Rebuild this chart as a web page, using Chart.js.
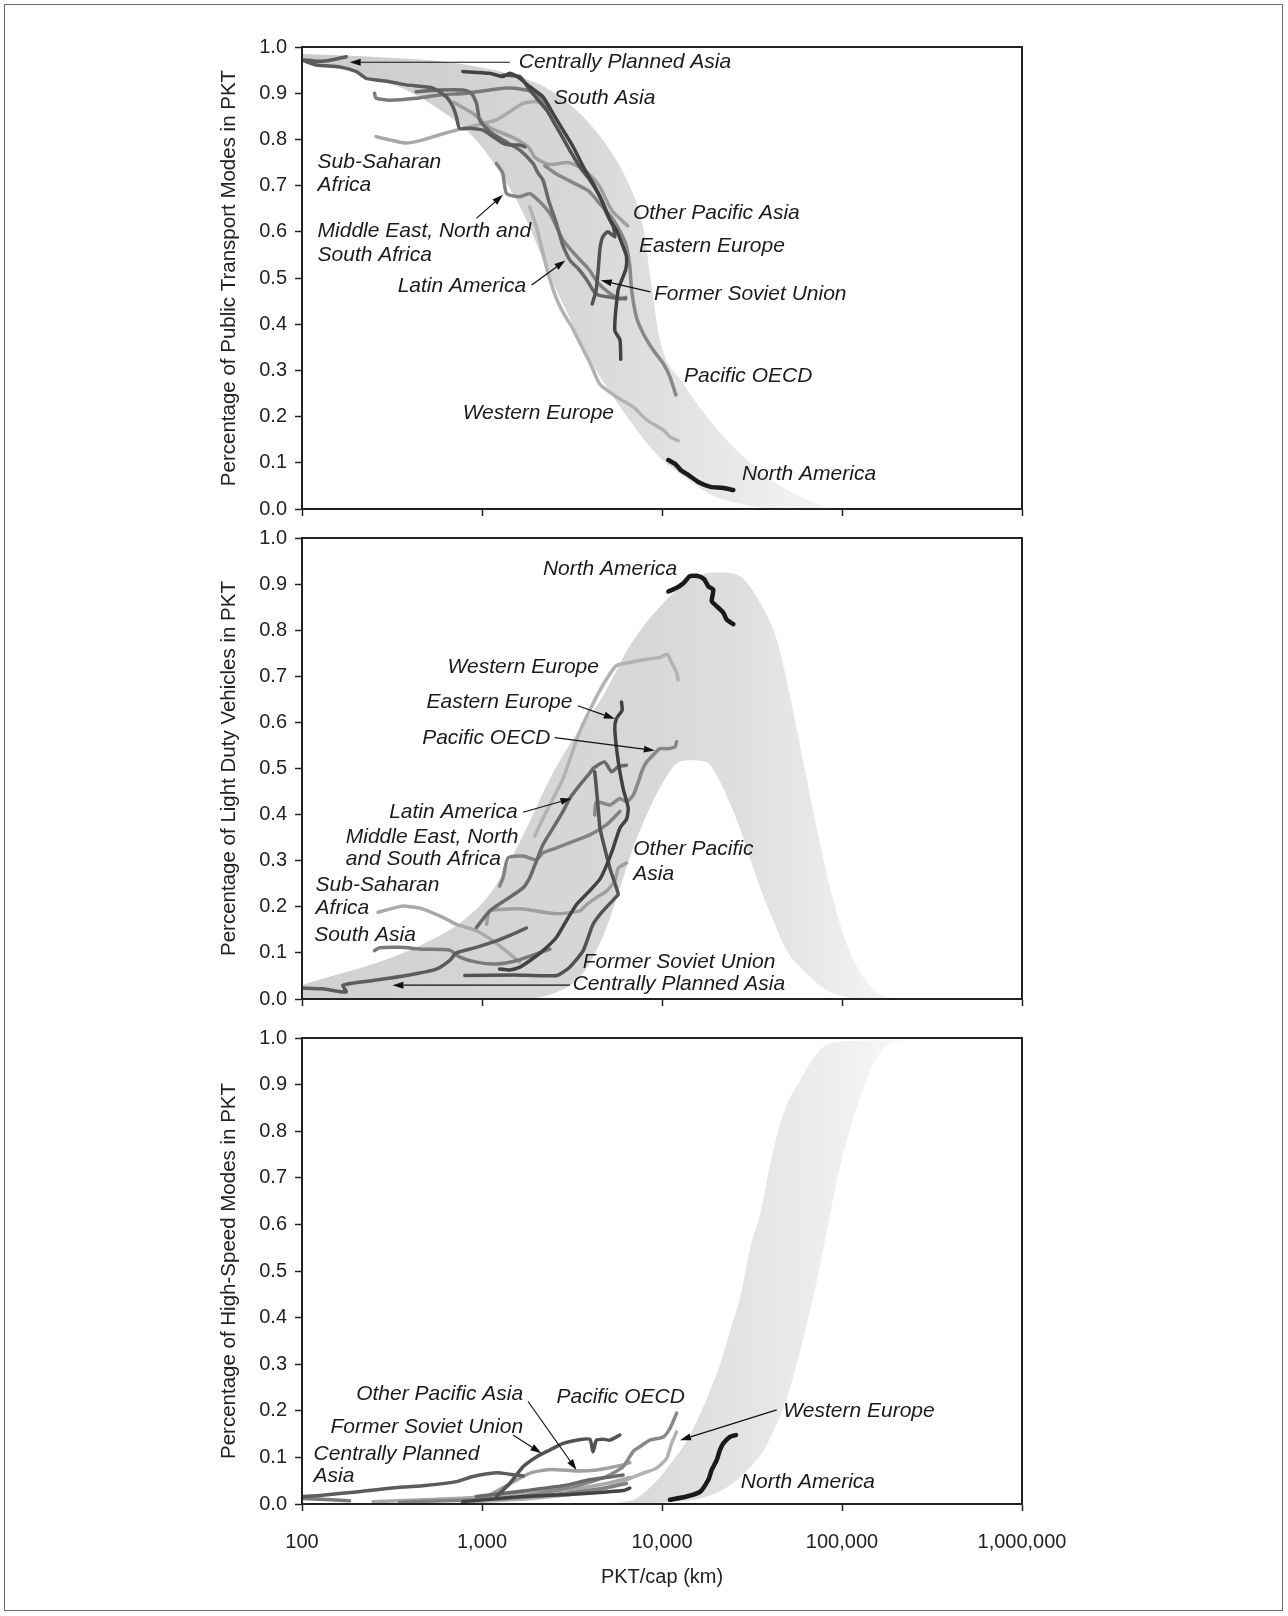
<!DOCTYPE html>
<html>
<head>
<meta charset="utf-8">
<title>Mode shares vs PKT/cap</title>
<script src="https://cdn.jsdelivr.net/npm/chart.js@4.4.1/dist/chart.umd.min.js"></script>
<style>
  html, body { margin: 0; padding: 0; background: #fff; }
  body { width: 1288px; height: 1616px; position: relative; overflow: hidden; }
  #frame { position: absolute; left: 4px; top: 4px; width: 1277px; height: 1605px; border: 1.5px solid #6a6a6a; }
  canvas { position: absolute; left: 200px; }
</style>
</head>
<body>
<div id="frame"></div>
<canvas id="pt" width="892" height="503" style="top:27px"></canvas>
<canvas id="ldv" width="892" height="502" style="top:518px"></canvas>
<canvas id="hs" width="892" height="598" style="top:1018px"></canvas>
<script>
// decade ticks on the PKT/cap axis
const xTicks = [100, 1000, 10000, 100000, 1000000];

// ---- panel 1: public transport share, [PKT/cap, share] ----
const ptNA = [[10840,0.106],[11800,0.098],[12740,0.084],[14090,0.073],[16000,0.058],[18600,0.048],[21600,0.046],[24900,0.041]];
const ptWE = [[1841,0.654],[2005,0.611],[2183,0.553],[2349,0.505],[2597,0.455],[2873,0.420],[3200,0.390],[3600,0.350],[4000,0.315],[4520,0.270],[5580,0.243],[6920,0.221],[8210,0.193],[10160,0.171],[11070,0.156],[12300,0.148]];
const ptPO = [[2233,0.743],[2597,0.725],[3179,0.707],[3892,0.689],[4530,0.660],[5265,0.631],[5825,0.602],[6284,0.574],[6607,0.530],[6780,0.474],[7200,0.416],[7860,0.380],[8930,0.344],[10160,0.315],[11070,0.286],[11940,0.247]];
const ptEE = [[783,0.947],[1102,0.943],[1303,0.936],[1426,0.943],[1622,0.932],[1841,0.914],[2183,0.892],[2483,0.856],[2820,0.820],[3210,0.784],[3648,0.741],[4140,0.705],[4710,0.662],[5130,0.626],[5580,0.604],[6080,0.568],[6350,0.546],[6300,0.520],[5900,0.490],[5700,0.474],[5465,0.387],[5840,0.366],[5900,0.324]];
const ptFSU = [[1303,0.939],[1622,0.936],[1841,0.907],[2278,0.864],[2594,0.827],[3070,0.777],[3490,0.741],[3970,0.712],[4520,0.676],[4920,0.640],[5360,0.611],[5465,0.589],[5000,0.600],[4700,0.590],[4530,0.566],[4418,0.516],[4306,0.473],[4198,0.458],[4094,0.444]];
const ptCPA = [[176,0.979],[130,0.969],[100,0.972],[120,0.961],[162,0.957],[200,0.947],[228,0.932],[307,0.925],[380,0.918],[534,0.911],[634,0.892],[689,0.871],[721,0.849],[750,0.824],[852,0.824],[1012,0.820],[1150,0.806],[1303,0.792],[1426,0.788],[1622,0.788],[1730,0.784]];
const ptSA = [[253,0.900],[258,0.889],[307,0.885],[431,0.889],[581,0.896],[820,0.900],[1102,0.907],[1368,0.911],[1690,0.908],[2005,0.900],[2278,0.878],[2323,0.864]];
const ptSSA = [[258,0.806],[307,0.799],[380,0.792],[470,0.799],[581,0.810],[721,0.820],[932,0.831],[1202,0.842],[1426,0.860],[1690,0.878],[2005,0.882],[2278,0.874]];
const ptLA = [[431,0.903],[581,0.907],[783,0.907],[873,0.900],[932,0.878],[971,0.842],[1104,0.817],[1303,0.799],[1622,0.777],[1920,0.748],[2048,0.727],[2183,0.712],[2349,0.667],[2597,0.617],[2800,0.573],[3099,0.537],[3428,0.520],[3792,0.498],[4306,0.465],[5265,0.458],[6284,0.455]];
const ptME = [[1202,0.748],[1303,0.727],[1368,0.683],[1622,0.676],[1841,0.683],[2094,0.665],[2384,0.640],[2594,0.611],[2820,0.582],[3300,0.550],[3900,0.520],[4400,0.490],[5000,0.470],[5825,0.455],[6284,0.458]];
const ptOPA = [[699,0.880],[900,0.855],[1102,0.826],[1489,0.804],[1823,0.782],[1967,0.761],[2349,0.746],[3022,0.750],[3517,0.739],[4094,0.718],[4530,0.696],[5265,0.646],[6443,0.613]];
const ptBandLower = [[100,0.970],[200,0.943],[380,0.907],[582,0.864],[891,0.806],[1202,0.741],[1552,0.669],[1841,0.610],[2233,0.530],[2873,0.437],[3517,0.365],[4306,0.300],[5538,0.235],[7129,0.175],[9500,0.115],[13700,0.065],[19000,0.030],[30000,0.008],[45000,0],[120000,0]];
const ptBandUpper = [[100,0.985],[307,0.977],[721,0.965],[1368,0.943],[2384,0.907],[3648,0.849],[5130,0.777],[6620,0.698],[7860,0.611],[8700,0.490],[9730,0.366],[13130,0.272],[17700,0.200],[24900,0.135],[38200,0.070],[58500,0.027],[82200,0.005],[120000,0]];

// ---- panel 2: light duty vehicle share ----
const ldvNA = [[10840,0.884],[12060,0.892],[13130,0.902],[14290,0.917],[15560,0.918],[17100,0.911],[18090,0.895],[19270,0.888],[18900,0.863],[20130,0.852],[21900,0.838],[22860,0.823],[24900,0.813]];
const ldvWE = [[1963,0.353],[2183,0.392],[2483,0.435],[2820,0.478],[3490,0.580],[4320,0.655],[4920,0.694],[5580,0.723],[6620,0.730],[8210,0.737],[9730,0.741],[10690,0.748],[11300,0.730],[12060,0.708],[12300,0.692]];
const ldvEE = [[1253,0.065],[1426,0.063],[1622,0.069],[1841,0.083],[2183,0.105],[2594,0.134],[2945,0.170],[3350,0.205],[3970,0.235],[4520,0.260],[4920,0.290],[5360,0.328],[5840,0.371],[6350,0.390],[6490,0.414],[6080,0.457],[5720,0.514],[5465,0.586],[5580,0.608],[6000,0.626],[5960,0.644]];
const ldvPO = [[4230,0.399],[4320,0.428],[5130,0.421],[5840,0.435],[6350,0.428],[6920,0.442],[7390,0.471],[7710,0.493],[8210,0.514],[8930,0.529],[9730,0.543],[10610,0.543],[11800,0.547],[12060,0.558]];
const ldvLA = [[931,0.155],[1104,0.191],[1368,0.216],[1690,0.241],[1841,0.263],[2005,0.299],[2183,0.335],[2483,0.371],[2820,0.407],[3070,0.435],[3490,0.464],[3970,0.490],[4140,0.500],[4800,0.514],[5240,0.493],[5720,0.504],[6350,0.507]];
const ldvFSU = [[802,0.051],[1500,0.052],[2594,0.051],[3070,0.069],[3648,0.105],[4140,0.162],[4700,0.191],[5580,0.222],[5720,0.227],[5130,0.284],[4800,0.328],[4520,0.371],[4420,0.414],[4320,0.457],[4230,0.493]];
const ldvOPA = [[1059,0.162],[1104,0.191],[1400,0.195],[1690,0.195],[2594,0.185],[3490,0.191],[3820,0.205],[4320,0.220],[4920,0.234],[5465,0.256],[5720,0.284],[6350,0.295]];
const ldvME = [[1253,0.245],[1309,0.263],[1396,0.306],[1690,0.310],[2005,0.302],[2183,0.317],[2594,0.328],[3210,0.342],[3970,0.356],[4920,0.378],[5840,0.407]];
const ldvSSA = [[264,0.188],[307,0.195],[364,0.202],[470,0.195],[607,0.177],[721,0.162],[931,0.148],[1151,0.126],[1426,0.098],[1622,0.080]];
const ldvSA = [[253,0.105],[270,0.111],[348,0.112],[470,0.108],[660,0.106],[752,0.091],[931,0.080],[1202,0.076],[1552,0.083],[2005,0.098],[2384,0.108]];
const ldvCPA = [[100,0.024],[130,0.022],[176,0.015],[169,0.030],[248,0.040],[380,0.051],[558,0.065],[660,0.083],[721,0.100],[931,0.112],[1202,0.126],[1552,0.144],[1765,0.154]];
const ldvBandInner = [[100,0],[1500,0],[2500,0.012],[3490,0.047],[4140,0.091],[4920,0.155],[5840,0.241],[6920,0.328],[8210,0.399],[10160,0.471],[12060,0.511],[14300,0.518],[17700,0.514],[21000,0.471],[24900,0.407],[29500,0.328],[35100,0.241],[41600,0.170],[49300,0.105],[63700,0.055],[82200,0.019],[106000,0.004],[130000,0],[200000,0]];
const ldvBandOuter = [[100,0.030],[120,0.040],[248,0.076],[470,0.119],[783,0.170],[1104,0.227],[1426,0.299],[1841,0.385],[2384,0.478],[3490,0.586],[4710,0.658],[6620,0.766],[10160,0.859],[15560,0.917],[21000,0.925],[27100,0.917],[35100,0.859],[43400,0.780],[51400,0.658],[61000,0.514],[72400,0.371],[85900,0.241],[106300,0.119],[131600,0.047],[162800,0.011],[200000,0]];

// ---- panel 3: high-speed mode share ----
const hsNA = [[11070,0.009],[13700,0.016],[16260,0.026],[18090,0.052],[18870,0.073],[20130,0.094],[21000,0.116],[21900,0.130],[23860,0.144],[25760,0.148]];
const hsWE = [[770,0.004],[1650,0.010],[3270,0.022],[4950,0.035],[6350,0.052],[7860,0.066],[9330,0.077],[10610,0.098],[11300,0.130],[12060,0.155]];
const hsPO = [[1690,0.016],[3210,0.037],[4920,0.059],[6080,0.080],[6920,0.113],[7540,0.123],[8570,0.137],[10160,0.144],[11070,0.162],[12060,0.195]];
const hsFSU = [[1202,0.016],[1426,0.044],[1690,0.080],[2005,0.101],[2384,0.116],[2820,0.130],[3350,0.137],[3970,0.139],[4140,0.112],[4320,0.137],[4710,0.139],[5130,0.137],[5840,0.148]];
const hsOPA = [[1104,0.019],[1841,0.066],[2384,0.074],[3350,0.071],[4320,0.073],[6080,0.084],[6620,0.089]];
const hsCPA = [[100,0.016],[130,0.019],[200,0.026],[307,0.034],[470,0.039],[721,0.048],[891,0.059],[1202,0.067],[1426,0.064],[1690,0.060]];
const hsSA = [[100,0.012],[184,0.007]];
const hsEE = [[783,0.005],[1690,0.016],[3210,0.021],[6080,0.029],[6620,0.034]];
const hsSSA = [[248,0.005],[470,0.009],[891,0.014],[1690,0.023],[3210,0.032],[4920,0.044],[6620,0.057]];
const hsLA = [[931,0.016],[1690,0.028],[2820,0.039],[3970,0.052],[6080,0.062]];
const hsME = [[348,0.004],[1104,0.010],[2594,0.021],[4920,0.035],[6350,0.044]];
const hsBandLower = [[4000,0],[11130,0.004],[17000,0.014],[23000,0.036],[29700,0.072],[36700,0.115],[43500,0.172],[49500,0.229],[56200,0.301],[63900,0.387],[72600,0.480],[82600,0.588],[93800,0.695],[106600,0.781],[126500,0.874],[150000,0.946],[180000,0.985],[220000,0.995]];
const hsBandUpper = [[4000,0],[6670,0.007],[8980,0.043],[11130,0.086],[13770,0.136],[16320,0.194],[18550,0.244],[21100,0.301],[23970,0.373],[27200,0.444],[31000,0.552],[35200,0.624],[40000,0.731],[47400,0.839],[58600,0.910],[75700,0.975],[100000,0.993],[220000,0.995]];

// region labels [text, PKT/cap, share] and arrows [fromX, fromY, toX, toY]
const ptLabels = [
  ['Centrally Planned Asia', 1600, 0.968], ['South Asia', 2506, 0.890],
  ['Sub-Saharan', 122, 0.751], ['Africa', 122, 0.700],
  ['Middle East, North and', 122, 0.602], ['South Africa', 122, 0.549],
  ['Latin America', 340, 0.482], ['Other Pacific Asia', 6890, 0.641],
  ['Eastern Europe', 7440, 0.569], ['Former Soviet Union', 9020, 0.464],
  ['Pacific OECD', 13240, 0.287], ['Western Europe', 781, 0.208],
  ['North America', 27800, 0.076]
];
const ptArrows = [[1426,0.967,184,0.967],[931,0.629,1309,0.680],[1888,0.485,2904,0.538],[8630,0.470,4570,0.495]];
const ldvLabels = [
  ['North America', 2180, 0.933], ['Western Europe', 644, 0.720],
  ['Eastern Europe', 492, 0.644], ['Pacific OECD', 465, 0.565],
  ['Latin America', 305, 0.405], ['Middle East, North', 175, 0.351],
  ['and South Africa', 175, 0.303], ['Sub-Saharan', 119, 0.248],
  ['Africa', 119, 0.196], ['South Asia', 117, 0.139],
  ['Other Pacific', 6920, 0.324], ['Asia', 6920, 0.270],
  ['Former Soviet Union', 3630, 0.079], ['Centrally Planned Asia', 3190, 0.032]
];
const ldvArrows = [[3404,0.636,5470,0.608],[2535,0.567,9120,0.539],[1690,0.405,3140,0.435],[3078,0.030,318,0.030]];
const hsLabels = [
  ['Other Pacific Asia', 200, 0.235], ['Pacific OECD', 2594, 0.229],
  ['Former Soviet Union', 144, 0.165], ['Centrally Planned', 116, 0.107],
  ['Asia', 116, 0.059], ['Western Europe', 47200, 0.200],
  ['North America', 27400, 0.046]
];
const hsArrows = [[1486,0.148,2138,0.109],[1803,0.220,3350,0.073],[43400,0.202,12590,0.137]];

const shade = {
  NA: '#1a1a1a', WE: '#b2b2b2', PO: '#888888', EE: '#424242', FSU: '#535353', CPA: '#5c5c5c',
  SA: '#7a7a7a', OPA: '#9f9f9f', LA: '#696969', ME: '#828282', SSA: '#a9a9a9'
};

Chart.defaults.font.family = "'Liberation Sans', Arial, Helvetica, sans-serif";
Chart.defaults.color = '#222';

const toXY = (pts) => pts.map(p => ({ x: p[0], y: p[1] }));

function line(points, color, width) {
  return {
    data: toXY(points), borderColor: color, borderWidth: width || 3.5,
    pointRadius: 0, tension: 0.2, fill: false, order: 0,
    borderCapStyle: 'round', borderJoinStyle: 'round'
  };
}

// two edges of the shaded band, filled between with a left-to-right gradient
function band(lower, upper, stops) {
  return [
    { data: toXY(lower), borderWidth: 0, borderColor: 'rgba(0,0,0,0)', pointRadius: 0,
      cubicInterpolationMode: 'monotone', fill: false, order: 10 },
    { data: toXY(upper), borderWidth: 0, borderColor: 'rgba(0,0,0,0)', pointRadius: 0,
      cubicInterpolationMode: 'monotone', fill: '-1', order: 10,
      backgroundColor: (c) => {
        const a = c.chart.chartArea;
        if (!a) return stops[0][1];
        const g = c.chart.ctx.createLinearGradient(a.left, 0, a.right, 0);
        stops.forEach(s => g.addColorStop(s[0], s[1]));
        return g;
      } }
  ];
}

function arrow(ctx, x0, y0, x1, y1) {
  const ang = Math.atan2(y1 - y0, x1 - x0), L = 11, W = 3.5;
  const c = Math.cos(ang), s = Math.sin(ang);
  ctx.beginPath();
  ctx.moveTo(x0, y0);
  ctx.lineTo(x1 - L * c, y1 - L * s);
  ctx.stroke();
  ctx.beginPath();
  ctx.moveTo(x1, y1);
  ctx.lineTo(x1 - L * c + W * s, y1 - L * s - W * c);
  ctx.lineTo(x1 - L * c - W * s, y1 - L * s + W * c);
  ctx.closePath();
  ctx.fill();
}

function notes(labels, arrows) {
  return {
    id: 'notes',
    afterDatasetsDraw(chart) {
      const { ctx, chartArea: a, scales: { x, y } } = chart;
      ctx.save();
      ctx.strokeStyle = '#222';
      ctx.lineWidth = 2;
      ctx.strokeRect(a.left, a.top, a.right - a.left, a.bottom - a.top);
      ctx.fillStyle = '#1b1b1b';
      ctx.font = "italic 21px 'Liberation Sans', Arial, sans-serif";
      ctx.textBaseline = 'middle';
      labels.forEach(([t, vx, vy]) => ctx.fillText(t, x.getPixelForValue(vx), y.getPixelForValue(vy)));
      ctx.strokeStyle = '#111';
      ctx.fillStyle = '#111';
      ctx.lineWidth = 1.2;
      arrows.forEach(([x0, y0, x1, y1]) =>
        arrow(ctx, x.getPixelForValue(x0), y.getPixelForValue(y0), x.getPixelForValue(x1), y.getPixelForValue(y1)));
      ctx.restore();
    }
  };
}

function scales(yTitle, bottom) {
  const tickGrid = { drawOnChartArea: false, tickLength: 7, tickColor: '#222', tickWidth: 1.5 };
  return {
    x: {
      type: 'logarithmic', min: 100, max: 1000000,
      afterBuildTicks: (s) => { s.ticks = xTicks.map(v => ({ value: v })); },
      afterFit: (s) => { s.height = bottom ? 112 : 21; },
      ticks: { autoSkip: false, maxRotation: 0, padding: 19, font: { size: 20 },
        callback: (v) => bottom ? Number(v).toLocaleString('en-US') : '' },
      grid: tickGrid,
      border: { color: '#222', width: 2 },
      title: { display: bottom, text: 'PKT/cap (km)', font: { size: 20 }, padding: { top: 0, bottom: 27 } }
    },
    y: {
      min: 0, max: 1,
      afterFit: (s) => { s.width = 102; },
      ticks: { stepSize: 0.1, padding: 8, font: { size: 20 }, callback: (v) => Number(v).toFixed(1) },
      grid: tickGrid,
      border: { color: '#222', width: 2 },
      title: { display: true, text: yTitle, font: { size: 20.5 }, padding: { top: 17, bottom: 0 } }
    }
  };
}

function makeChart(id, datasets, yTitle, bottom, labels, arrows) {
  return new Chart(document.getElementById(id), {
    type: 'line',
    data: { datasets },
    options: {
      responsive: false, animation: false, events: [],
      layout: { padding: { top: 20, right: 70, bottom: 0, left: 0 } },
      plugins: { legend: { display: false }, tooltip: { enabled: false } },
      scales: scales(yTitle, bottom)
    },
    plugins: [notes(labels, arrows)]
  });
}

makeChart('pt', [
  ...band(ptBandLower, ptBandUpper, [[0, '#cbcbcb'], [0.375, '#d7d7d7'], [0.5, '#e0e0e0'], [0.625, '#ebebeb'], [0.73, '#f6f6f6'], [1, '#ffffff']]),
  line(ptNA, shade.NA, 4.5), line(ptEE, shade.EE), line(ptFSU, shade.FSU), line(ptCPA, shade.CPA),
  line(ptLA, shade.LA), line(ptME, shade.ME), line(ptSA, shade.SA), line(ptPO, shade.PO),
  line(ptOPA, shade.OPA), line(ptSSA, shade.SSA), line(ptWE, shade.WE)
], 'Percentage of Public Transport Modes in PKT', false, ptLabels, ptArrows);

makeChart('ldv', [
  ...band(ldvBandInner, ldvBandOuter, [[0, '#d1d1d1'], [0.5, '#d8d8d8'], [0.6, '#dedede'], [0.7, '#e7e7e7'], [0.8, '#f3f3f3'], [1, '#ffffff']]),
  line(ldvNA, shade.NA, 4.5), line(ldvEE, shade.EE), line(ldvCPA, shade.CPA), line(ldvFSU, shade.FSU),
  line(ldvLA, shade.LA), line(ldvSA, shade.SA), line(ldvME, shade.ME), line(ldvPO, shade.PO),
  line(ldvOPA, shade.OPA), line(ldvSSA, shade.SSA), line(ldvWE, shade.WE)
], 'Percentage of Light Duty Vehicles in PKT', false, ldvLabels, ldvArrows);

makeChart('hs', [
  ...band(hsBandLower, hsBandUpper, [[0, '#d4d4d4'], [0.45, '#d8d8d8'], [0.58, '#e1e1e1'], [0.7, '#ebebeb'], [0.8, '#f4f4f4'], [1, '#ffffff']]),
  line(hsNA, shade.NA, 4.5), line(hsEE, shade.EE), line(hsCPA, shade.CPA), line(hsFSU, shade.FSU),
  line(hsLA, shade.LA), line(hsSA, shade.SA), line(hsME, shade.ME), line(hsPO, shade.PO),
  line(hsOPA, shade.OPA), line(hsSSA, shade.SSA), line(hsWE, shade.WE)
], 'Percentage of High-Speed Modes in PKT', true, hsLabels, hsArrows);
</script>
</body>
</html>
